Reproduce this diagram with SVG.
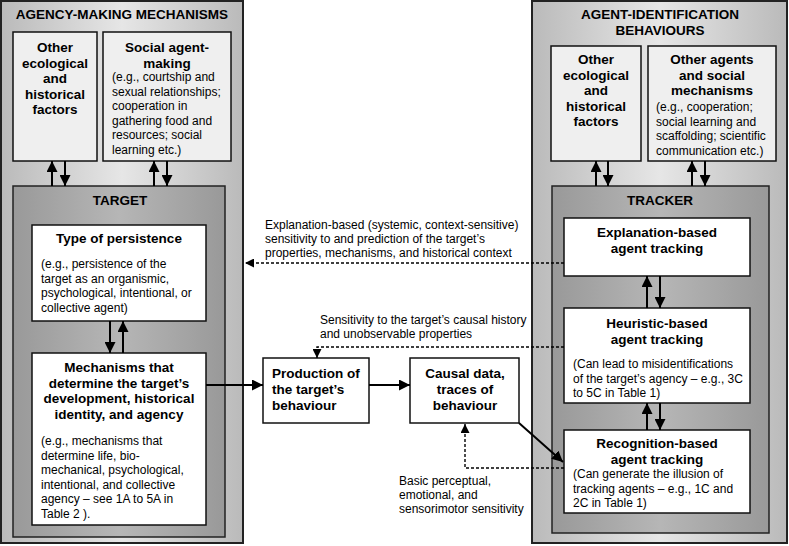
<svg xmlns="http://www.w3.org/2000/svg" width="789" height="546" viewBox="0 0 789 546">
<defs>
<linearGradient id="gOuter" x1="0" y1="0" x2="1" y2="0">
<stop offset="0" stop-color="#bababa"/><stop offset="0.5" stop-color="#e6e6e6"/><stop offset="1" stop-color="#bababa"/>
</linearGradient>
<linearGradient id="gInner" x1="0" y1="0" x2="1" y2="0">
<stop offset="0" stop-color="#999999"/><stop offset="0.5" stop-color="#b6b6b6"/><stop offset="1" stop-color="#999999"/>
</linearGradient>
<marker id="ah" viewBox="0 0 10 10" refX="10" refY="5" markerWidth="11" markerHeight="11" markerUnits="userSpaceOnUse" orient="auto">
<path d="M0,0 L10,5 L0,10 z" fill="#000"/>
</marker>
<marker id="ahs" viewBox="0 0 10 10" refX="10" refY="5" markerWidth="9" markerHeight="9" markerUnits="userSpaceOnUse" orient="auto">
<path d="M0,0 L10,5 L0,10 z" fill="#000"/>
</marker>
</defs>
<style>
text{font-family:"Liberation Sans",Arial,sans-serif;fill:#000}
.t{font-size:13.5px;font-weight:bold}
.b{font-size:12px}
.c{text-anchor:middle}
.outer{fill:url(#gOuter);stroke:#222;stroke-width:2}
.inner{fill:url(#gInner);stroke:#222;stroke-width:1.5}
.top{fill:#efefef;stroke:#111;stroke-width:1.5}
.box{fill:#fff;stroke:#111;stroke-width:1.5}
.sa{fill:none;stroke:#000;stroke-width:2;marker-end:url(#ah)}
.da{fill:none;stroke:#000;stroke-width:1.4;stroke-dasharray:3,2;marker-end:url(#ahs)}
</style>
<rect width="789" height="546" fill="#fff"/>

<g id="agency-making">
<rect class="outer" x="1" y="1" width="242" height="542"/>
<text class="t c" x="122" y="19">AGENCY-MAKING MECHANISMS</text>
</g>
<g id="agent-identification">
<rect class="outer" x="532" y="1" width="255" height="542"/>
<text class="t c" x="660" y="19">AGENT-IDENTIFICATION</text>
<text class="t c" x="660" y="35">BEHAVIOURS</text>
</g>

<g id="left-other">
<rect class="top" x="13" y="32" width="84" height="129"/>
<text class="t c" x="55" y="52">Other</text>
<text class="t c" x="55" y="67.6">ecological</text>
<text class="t c" x="55" y="83.2">and</text>
<text class="t c" x="55" y="98.8">historical</text>
<text class="t c" x="55" y="114.4">factors</text>
</g>
<g id="social-agent-making">
<rect class="top" x="103" y="32" width="128" height="129"/>
<text class="t c" x="167" y="52">Social agent-</text>
<text class="t c" x="167" y="67.6">making</text>
<text class="b" x="112" y="81">(e.g., courtship and</text>
<text class="b" x="112" y="95.5">sexual relationships;</text>
<text class="b" x="112" y="110">cooperation in</text>
<text class="b" x="112" y="124.5">gathering food and</text>
<text class="b" x="112" y="139">resources; social</text>
<text class="b" x="112" y="153.5">learning etc.)</text>
</g>

<g id="target">
<rect class="inner" x="13" y="186" width="212" height="351"/>
<text class="t c" x="120" y="205">TARGET</text>
</g>
<g id="type-of-persistence">
<rect class="box" x="32" y="225" width="174" height="96"/>
<text class="t c" x="119" y="243">Type of persistence</text>
<text class="b" x="41" y="268">(e.g., persistence of the</text>
<text class="b" x="41" y="282.5">target as an organismic,</text>
<text class="b" x="41" y="297">psychological, intentional, or</text>
<text class="b" x="41" y="311.5">collective agent)</text>
</g>
<g id="mechanisms">
<rect class="box" x="32" y="353" width="174" height="172"/>
<text class="t c" x="119" y="372">Mechanisms that</text>
<text class="t c" x="119" y="387.5">determine the target’s</text>
<text class="t c" x="119" y="403">development, historical</text>
<text class="t c" x="119" y="418.5">identity, and agency</text>
<text class="b" x="41" y="445">(e.g., mechanisms that</text>
<text class="b" x="41" y="459.5">determine life, bio-</text>
<text class="b" x="41" y="474">mechanical, psychological,</text>
<text class="b" x="41" y="488.5">intentional, and collective</text>
<text class="b" x="41" y="503">agency – see 1A to 5A in</text>
<text class="b" x="41" y="517.5">Table 2 ).</text>
</g>

<g id="right-other">
<rect class="top" x="551" y="46" width="90" height="115"/>
<text class="t c" x="596" y="64">Other</text>
<text class="t c" x="596" y="79.6">ecological</text>
<text class="t c" x="596" y="95.2">and</text>
<text class="t c" x="596" y="110.8">historical</text>
<text class="t c" x="596" y="126.4">factors</text>
</g>
<g id="other-agents">
<rect class="top" x="648" y="46" width="128" height="115"/>
<text class="t c" x="712" y="64">Other agents</text>
<text class="t c" x="712" y="79.6">and social</text>
<text class="t c" x="712" y="95.2">mechanisms</text>
<text class="b" x="656" y="111">(e.g., cooperation;</text>
<text class="b" x="656" y="125.5">social learning and</text>
<text class="b" x="656" y="140">scaffolding; scientific</text>
<text class="b" x="656" y="154.5">communication etc.)</text>
</g>

<g id="tracker">
<rect class="inner" x="552" y="186" width="217" height="347"/>
<text class="t c" x="660" y="205">TRACKER</text>
</g>
<g id="explanation-based">
<rect class="box" x="564" y="218" width="186" height="58"/>
<text class="t c" x="657" y="237">Explanation-based</text>
<text class="t c" x="657" y="252.5">agent tracking</text>
</g>
<g id="heuristic-based">
<rect class="box" x="564" y="308" width="186" height="95"/>
<text class="t c" x="657" y="328">Heuristic-based</text>
<text class="t c" x="657" y="343.5">agent tracking</text>
<text class="b" x="573" y="368">(Can lead to misidentifications</text>
<text class="b" x="573" y="382.5">of the target’s agency – e.g., 3C</text>
<text class="b" x="573" y="397">to 5C in Table 1)</text>
</g>
<g id="recognition-based">
<rect class="box" x="564" y="430" width="186" height="83"/>
<text class="t c" x="657" y="448">Recognition-based</text>
<text class="t c" x="657" y="463.5">agent tracking</text>
<text class="b" x="573" y="478">(Can generate the illusion of</text>
<text class="b" x="573" y="492.5">tracking agents – e.g., 1C and</text>
<text class="b" x="573" y="507">2C in Table 1)</text>
</g>

<g id="production">
<rect class="box" x="263" y="358" width="106" height="65"/>
<text class="t" x="272" y="378">Production of</text>
<text class="t" x="272" y="394">the target’s</text>
<text class="t" x="272" y="409.5">behaviour</text>
</g>
<g id="causal-data">
<rect class="box" x="410" y="358" width="109" height="65"/>
<text class="t c" x="465" y="378">Causal data,</text>
<text class="t c" x="465" y="394">traces of</text>
<text class="t c" x="465" y="409.5">behaviour</text>
</g>

<g id="connectors">
<path class="sa" d="M52,186 V161"/>
<path class="sa" d="M65,161 V186"/>
<path class="sa" d="M154,186 V161"/>
<path class="sa" d="M167,161 V186"/>
<path class="sa" d="M110,321 V353"/>
<path class="sa" d="M123,353 V321"/>
<path class="sa" d="M596,186 V161"/>
<path class="sa" d="M608,161 V186"/>
<path class="sa" d="M692,186 V161"/>
<path class="sa" d="M705,161 V186"/>
<path class="sa" d="M647,308 V276"/>
<path class="sa" d="M660,276 V308"/>
<path class="sa" d="M647,430 V403"/>
<path class="sa" d="M660,403 V430"/>
<path class="sa" d="M206,385 H263"/>
<path class="sa" d="M369,385 H410"/>
<path class="sa" d="M519,423 L563,462"/>
<path class="da" d="M564,263 H245"/>
<path class="da" d="M564,347 H317 V358"/>
<path class="da" d="M564,468 H465 V424"/>
<text class="b" x="265" y="229">Explanation-based (systemic, context-sensitive)</text>
<text class="b" x="265" y="243">sensitivity to and prediction of the target’s</text>
<text class="b" x="265" y="257">properties, mechanisms, and historical context</text>
<text class="b" x="320" y="324">Sensitivity to the target’s causal history</text>
<text class="b" x="320" y="338">and unobservable properties</text>
<text class="b" x="399" y="485">Basic perceptual,</text>
<text class="b" x="399" y="499">emotional, and</text>
<text class="b" x="399" y="513">sensorimotor sensitivity</text>
</g>
</svg>
